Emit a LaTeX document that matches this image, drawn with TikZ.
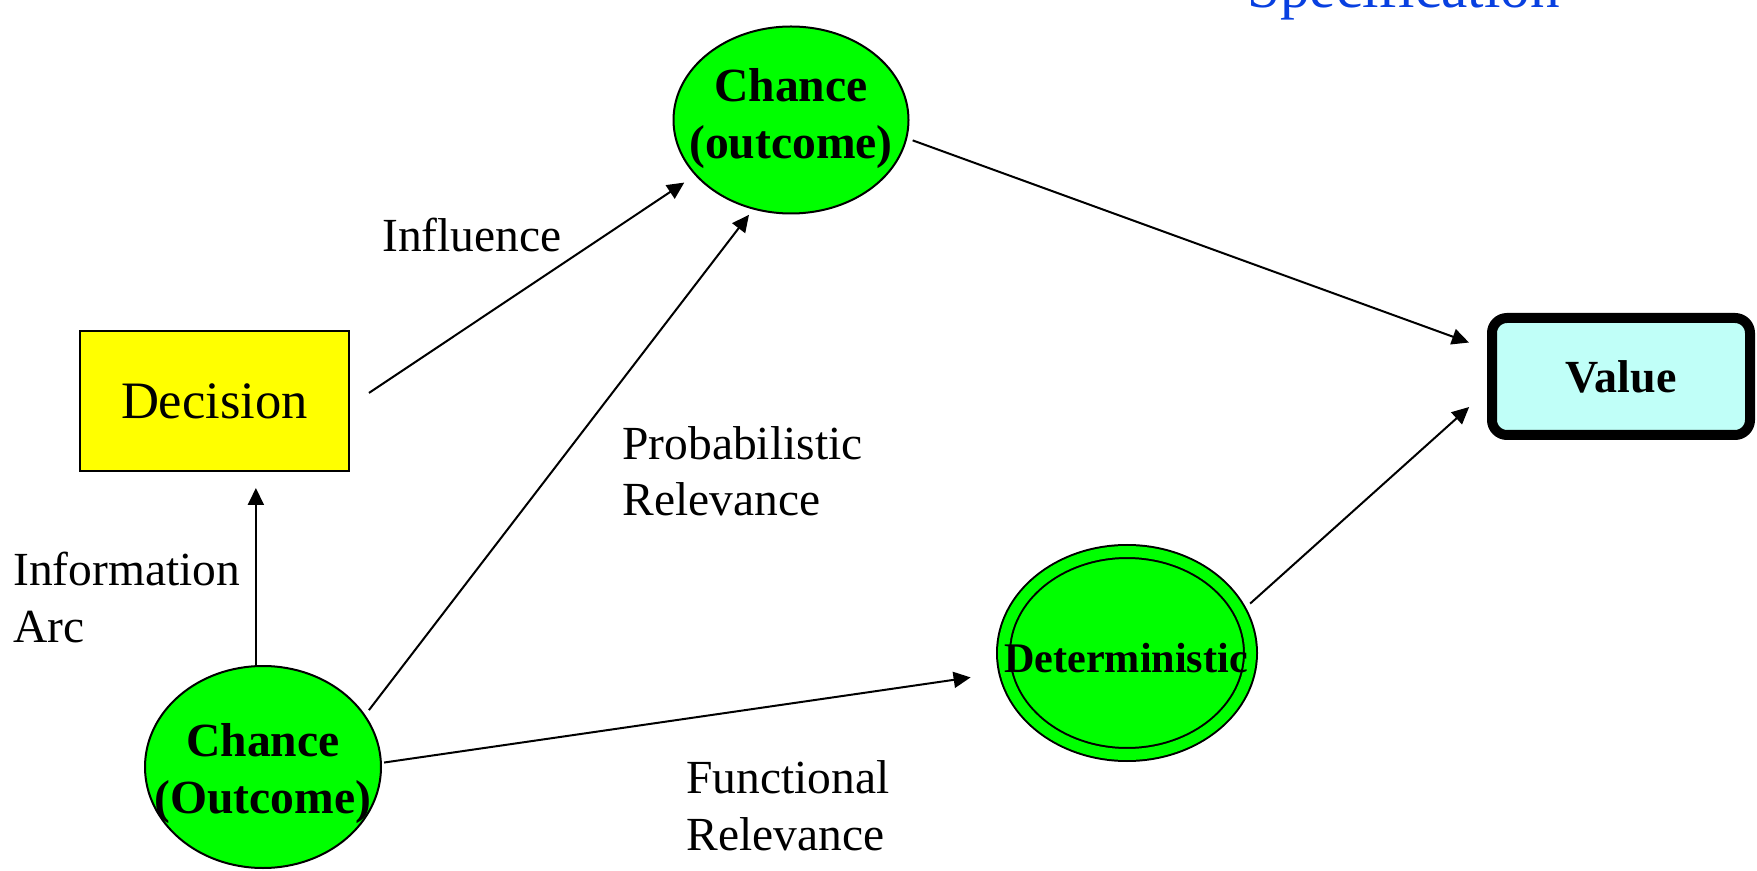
\documentclass[tikz,border=0pt]{standalone}
\usepackage{fontspec}
\setmainfont{Liberation Serif}
\usetikzlibrary{arrows.meta,calc,shapes.geometric}
\definecolor{nodegreen}{RGB}{0,255,0}
\definecolor{decyellow}{RGB}{255,255,0}
\definecolor{valuecyan}{RGB}{192,255,248}
\definecolor{titleblue}{RGB}{8,64,224}

\begin{document}
\begin{tikzpicture}[x=0.5pt,y=-0.5pt,
  chance/.style={ellipse, draw=black, line width=1pt, fill=nodegreen, inner sep=0pt},
  link/.style={draw=black, line width=1pt, -{Triangle[length=8.5pt,width=8pt]}},
  lbl/.style={font=\fontsize{23.75}{28.4}\selectfont, align=left, inner sep=0pt, anchor=base west},
  boldlbl/.style={font=\fontsize{23.8}{28.3}\selectfont\bfseries, align=center, inner sep=0pt},
]
\useasboundingbox (0,0) rectangle (1757,871);
\clip (0,0) rectangle (1757,871);

% heading, cut by the top edge
\node[anchor=base west, inner sep=0pt, font=\fontsize{29.6}{35}\selectfont, text=titleblue] (spec) at (1247,8) {Specification};

% nodes of the influence diagram
\node[draw=black, line width=1pt, fill=decyellow, minimum width=134.5pt, minimum height=70pt,
      inner sep=0pt, font=\fontsize{26.3}{30}\selectfont] (dec) at (214.5,401) {Decision};

\node[chance, minimum width=117.5pt, minimum height=93.5pt] (T) at (791,120) {};
\node[boldlbl] (Ttext) at (791,118.5) {Chance\\(outcome)};

\node[chance, minimum width=118pt, minimum height=101pt] (B) at (263,767) {};
\node[boldlbl] (Btext) at (263,773.5) {Chance\\(Outcome)};

\node[ellipse, draw=black, line width=1pt, double=nodegreen, double distance=5.5pt, fill=nodegreen,
      minimum width=123.5pt, minimum height=101.5pt, inner sep=0pt, outer sep=3.75pt] (D) at (1127,653) {};
\node[inner sep=0pt, font=\fontsize{21.1}{25}\selectfont\bfseries] (Dtext) at (1126,658.5) {Deterministic};

\node[draw=black, line width=5pt, rounded corners=7.5pt, fill=valuecyan, minimum width=129pt,
      minimum height=58.5pt, inner sep=0pt, font=\fontsize{23}{28}\selectfont\bfseries] (V) at (1621,376.5) {Value};

% arcs
\draw[link, shorten <=11.4pt, shorten >=6.45pt] ($(dec.east)+(0,4.6)$) -- (T.210.4);
\draw[link, shorten <=3pt, shorten >=3.3pt] (B.27) -- (T.247.6);
\draw[link, shorten <=2.9pt, shorten >=9.6pt] (T.351.7) -- ($(V.west)+(0,-27.4)$);
\draw[link, shorten >=8pt] (B.94.5) -- (B.94.5 |- dec.south);
\draw[link, shorten <=1.1pt, shorten >=14pt] (B.2.3) -- (D.189.3);
\draw[link, shorten <=2.8pt, shorten >=12pt] (D.21.9) -- ($(V.west)+(0,14.5)$);

% arc labels (base anchor sits on the last line)
\node[lbl] (linfl) at (382,252) {Influence};
\node[lbl] (lprob) at (622,516) {Probabilistic\\Relevance};
\node[lbl] (linfo) at (13,642) {Information\\Arc};
\node[lbl] (lfunc) at (686,850) {Functional\\Relevance};
\end{tikzpicture}
\end{document}
